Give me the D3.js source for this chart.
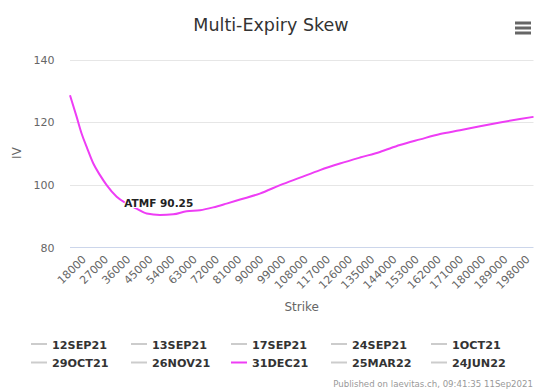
<!DOCTYPE html>
<html><head><meta charset="utf-8">
<script src="https://cdn.jsdelivr.net/npm/d3@7/dist/d3.min.js"></script>
<style>body{margin:0;background:#fff}svg{display:block;font-family:"DejaVu Sans",Verdana,sans-serif}</style>
</head><body><div id="c"></div>
<script>
const strikes = [12000,14700,16700,18760,21460,24170,26870,30930,35000,39000,43100,48500,53900,59300,64700,70100,75500,81000,89000,97200,105300,113400,121500,129600,137700,145800,154000,162100,170200,178300,186400,194500,200000];
const iv = [128.6,121.7,116.4,112.1,106.8,103.1,99.9,96.2,94.0,92.4,90.85,90.4,90.6,91.6,91.9,92.8,94.0,95.3,97.2,99.9,102.3,104.7,106.8,108.7,110.5,112.7,114.5,116.2,117.4,118.7,119.9,121.0,121.7];
const xTicks = [18000,27000,36000,45000,54000,63000,72000,81000,90000,99000,108000,117000,126000,135000,144000,153000,162000,171000,180000,189000,198000];
const yTicks = [80,100,120,140];
const expiries = ["12SEP21","13SEP21","17SEP21","24SEP21","1OCT21","29OCT21","26NOV21","31DEC21","25MAR22","24JUN22"];
const activeExpiry = "31DEC21";
const atmfStrike = 48000, atmfValue = 90.25;

const W=543,H=391;
const svg=d3.select("#c").append("svg").attr("width",W).attr("height",H);
const x=d3.scaleLinear().domain([12000,200000]).range([70,533.5]);
const y=d3.scaleLinear().domain([80,140]).range([247.5,59.5]);

svg.append("text").attr("x",271).attr("y",31).attr("text-anchor","middle")
  .attr("font-size",17.5).attr("fill","#333").text("Multi-Expiry Skew");
// menu icon
[23,28,33].forEach(v=>svg.append("rect").attr("x",515).attr("y",v-1.5).attr("width",16).attr("height",3).attr("fill","#666"));

// grid
svg.append("g").selectAll("line").data(yTicks.filter(t=>t!==80)).join("line")
  .attr("x1",70).attr("x2",533.5).attr("y1",d=>Math.round(y(d))+0.5).attr("y2",d=>Math.round(y(d))+0.5)
  .attr("stroke","#e6e6e6");
svg.append("line").attr("x1",70).attr("x2",533.5).attr("y1",247.5).attr("y2",247.5).attr("stroke","#ccd6eb");

svg.append("g").selectAll("text").data(yTicks).join("text")
  .attr("x",54.5).attr("y",d=>y(d)+4).attr("text-anchor","end").attr("font-size",11).attr("fill","#666").text(d=>d);
svg.append("g").selectAll("text").data(xTicks).join("text")
  .attr("transform",d=>`translate(${x(d)+2},260) rotate(-45)`).attr("text-anchor","end")
  .attr("font-size",11).attr("fill","#666").text(d=>d);

svg.append("text").attr("transform","translate(21,153) rotate(-90)").attr("text-anchor","middle")
  .attr("font-size",12).attr("fill","#666").text("IV");
svg.append("text").attr("x",301.7).attr("y",311).attr("text-anchor","middle")
  .attr("font-size",12).attr("fill","#666").text("Strike");

const line=d3.line().x((d,i)=>x(strikes[i])).y(d=>y(d)).curve(d3.curveMonotoneX);
svg.append("path").datum(iv).attr("d",line).attr("fill","none").attr("stroke","#ee3df5").attr("stroke-width",2);

svg.append("text").attr("x",x(atmfStrike)).attr("y",y(atmfValue)-8.5).attr("text-anchor","middle")
  .attr("font-size",10.5).attr("font-weight","bold").attr("fill","#222")
  .attr("stroke","#fff").attr("stroke-width",2).attr("paint-order","stroke").text("ATMF "+atmfValue);

// legend
const lg=svg.append("g").selectAll("g").data(expiries).join("g")
  .attr("transform",(d,i)=>`translate(${31+100*(i%5)},${344+18.5*Math.floor(i/5)})`);
lg.append("line").attr("x1",0).attr("x2",16).attr("y1",0).attr("y2",0)
  .attr("stroke",d=>d===activeExpiry?"#ee3df5":"#ccc").attr("stroke-width",2);
lg.append("text").attr("x",21).attr("y",4.5).attr("font-size",11.2).attr("font-weight","bold").attr("fill","#333").text(d=>d);

svg.append("text").attr("x",533).attr("y",387).attr("text-anchor","end").attr("font-size",8.6).attr("fill","#999")
  .text("Published on laevitas.ch, 09:41:35 11Sep2021");
</script></body></html>
